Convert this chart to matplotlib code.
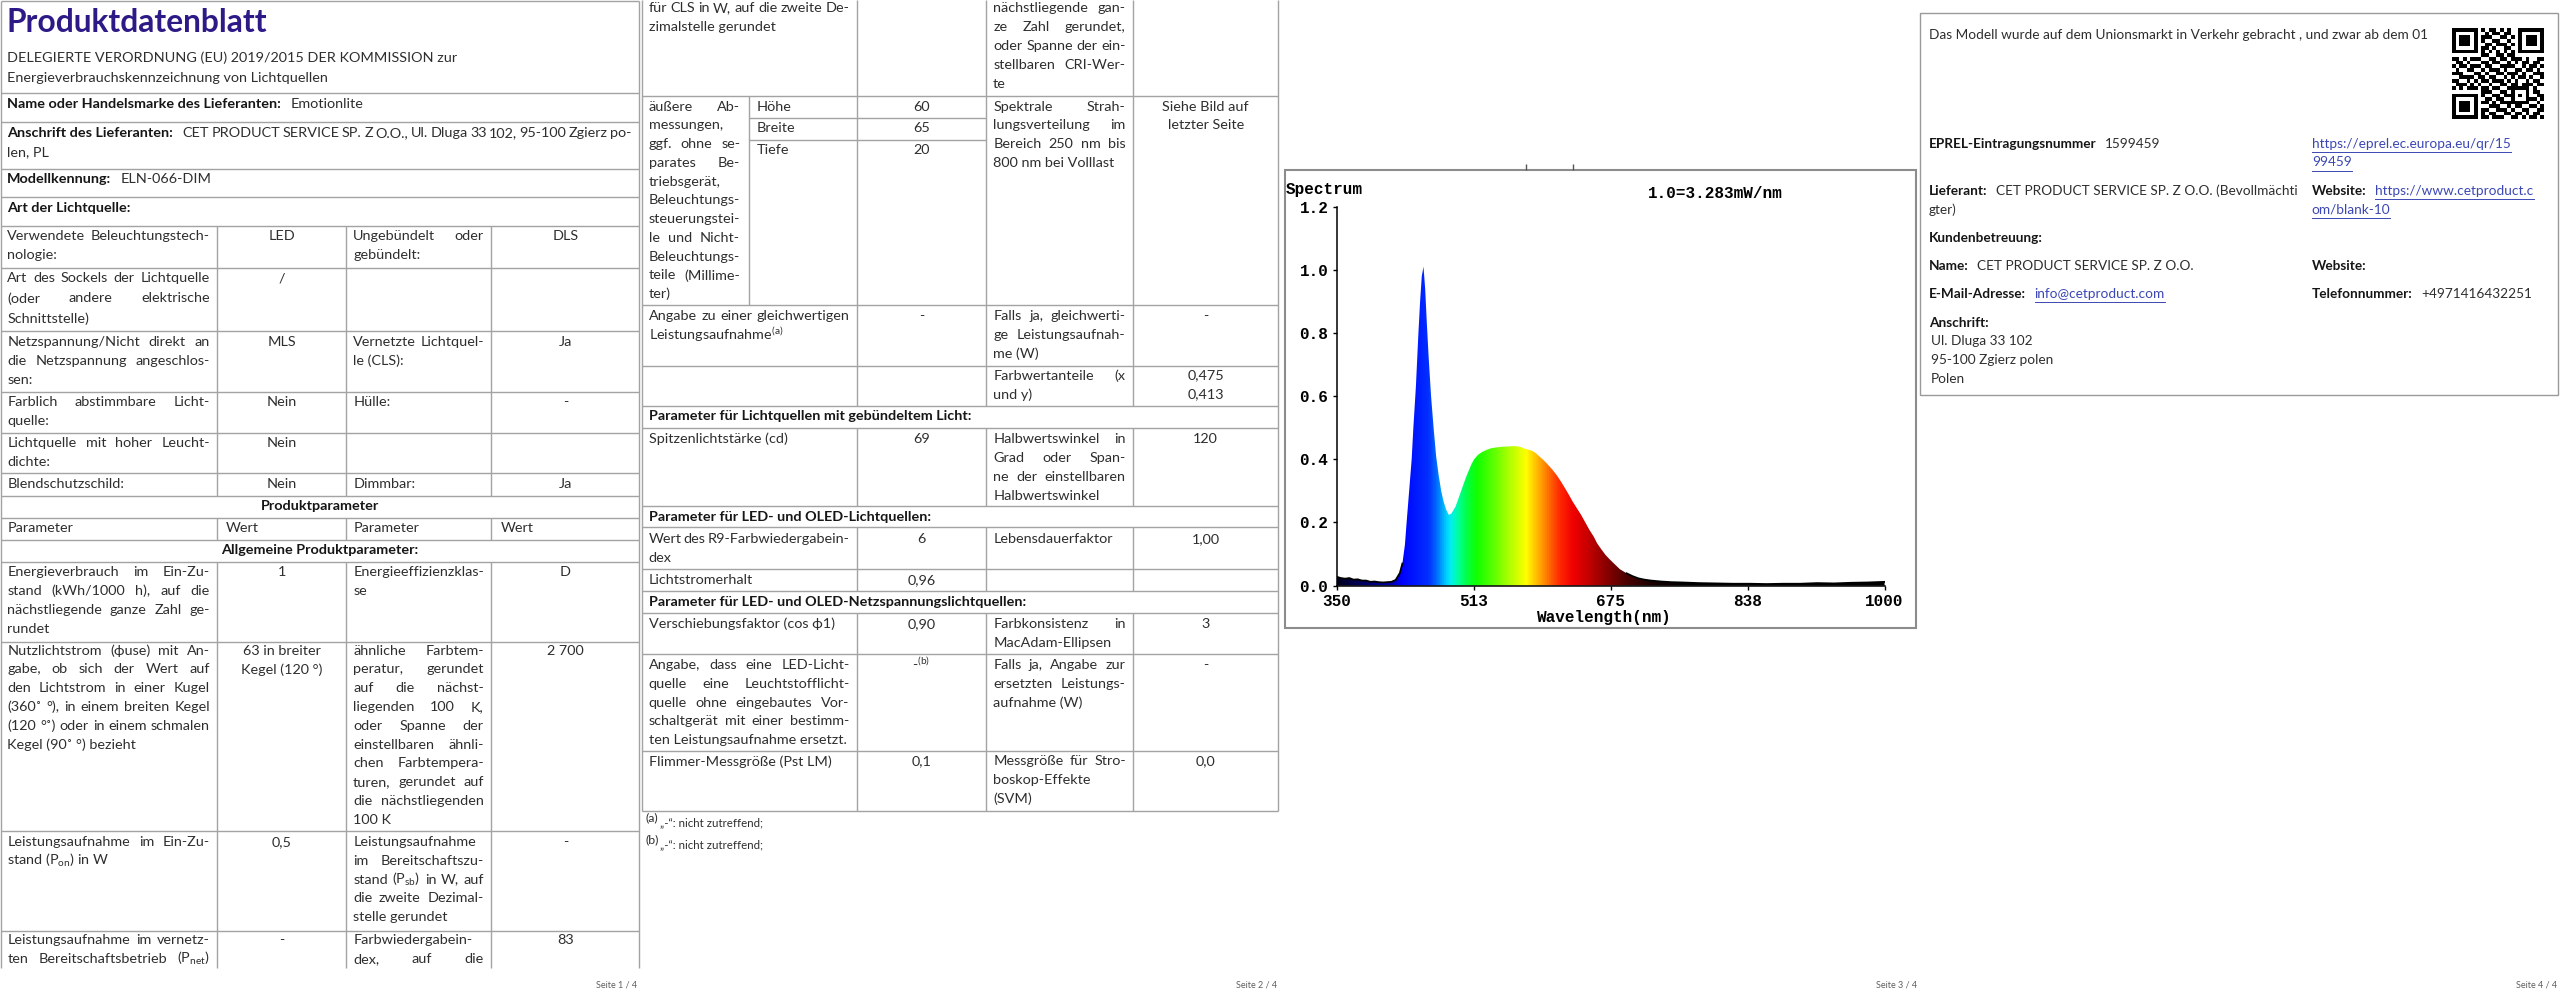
import numpy as np
import matplotlib
matplotlib.use("Agg")
import matplotlib.pyplot as plt
from matplotlib.colors import LinearSegmentedColormap, Normalize
from matplotlib.patches import Polygon, Rectangle

plt.rcParams["font.family"] = ["Lato", "DejaVu Sans"]
plt.rcParams["mathtext.fontset"] = "custom"
plt.rcParams["mathtext.rm"] = "Lato"
plt.rcParams["mathtext.it"] = "Lato:italic"
plt.rcParams["mathtext.bf"] = "Lato:bold"

# ---------------- Inhalte ----------------
titel = "Produktdatenblatt"
verordnung = ["DELEGIERTE VERORDNUNG (EU) 2019/2015 DER KOMMISSION zur",
              "Energieverbrauchskennzeichnung von Lichtquellen"]
marke = ("Name oder Handelsmarke des Lieferanten:", "Emotionlite")
anschrift = ("Anschrift des Lieferanten:",
             "CET PRODUCT SERVICE SP. Z O.O., Ul. Dluga 33 102, 95-100 Zgierz po-", "len, PL")
modell = ("Modellkennung:", "ELN-066-DIM")
art_titel = "Art der Lichtquelle:"

# Seite 1, Tabelle (4 Spalten)
p1_sp1 = [
    ["Verwendete Beleuchtungstech-", "nologie:"],
    ["Art des Sockels der Lichtquelle", "(oder andere elektrische", "Schnittstelle)"],
    ["Netzspannung/Nicht direkt an", "die Netzspannung angeschlos-", "sen:"],
    ["Farblich abstimmbare Licht-", "quelle:"],
    ["Lichtquelle mit hoher Leucht-", "dichte:"],
    ["Blendschutzschild:"],
    ["Energieverbrauch im Ein-Zu-", "stand (kWh/1000 h), auf die",
     "nächstliegende ganze Zahl ge-", "rundet"],
    ["Nutzlichtstrom (ϕuse) mit An-", "gabe, ob sich der Wert auf",
     "den Lichtstrom in einer Kugel", "(360˚ °), in einem breiten Kegel",
     "(120 °˚) oder in einem schmalen", "Kegel (90˚ °) bezieht"],
    ["Leistungsaufnahme im Ein-Zu-", r"stand (P$_{\mathrm{on}}$) in W"],
    ["Leistungsaufnahme im vernetz-", r"ten Bereitschaftsbetrieb (P$_{\mathrm{net}}$)"],
]
p1_sp2 = [["LED"], ["/"], ["MLS"], ["Nein"], ["Nein"], ["Nein"], ["1"],
          ["63 in breiter", "Kegel (120 °)"], ["0,5"], ["-"]]
p1_sp3 = [
    ["Ungebündelt oder", "gebündelt:"],
    [],
    ["Vernetzte Lichtquel-", "le (CLS):"],
    ["Hülle:"],
    [],
    ["Dimmbar:"],
    ["Energieeffizienzklas-", "se"],
    ["ähnliche Farbtem-", "peratur, gerundet", "auf die nächst-", "liegenden 100 K,",
     "oder Spanne der", "einstellbaren ähnli-", "chen Farbtempera-", "turen, gerundet auf",
     "die nächstliegenden", "100 K"],
    ["Leistungsaufnahme", "im Bereitschaftszu-", r"stand (P$_{\mathrm{sb}}$) in W, auf",
     "die zweite Dezimal-", "stelle gerundet"],
    ["Farbwiedergabein-", "dex, auf die"],
]
p1_sp4 = [["DLS"], [], ["Ja"], ["-"], [], ["Ja"], ["D"], ["2 700"], ["-"], ["83"]]
p1_kopf = ["Parameter", "Wert", "Parameter", "Wert"]
p1_zwischen = ["Produktparameter", "Allgemeine Produktparameter:"]

# Seite 2, Tabelle
p2_sp1 = [
    ["für CLS in W, auf die zweite De-", "zimalstelle gerundet"],
    ["äußere Ab-", "messungen,", "ggf. ohne se-", "parates Be-", "triebsgerät,",
     "Beleuchtungs-", "steuerungstei-", "le und Nicht-", "Beleuchtungs-",
     "teile (Millime-", "ter)"],
    ["Angabe zu einer gleichwertigen", r"Leistungsaufnahme$^{\mathrm{(a)}}$"],
    [],
    ["Spitzenlichtstärke (cd)"],
    ["Wert des R9-Farbwiedergabein-", "dex"],
    ["Lichtstromerhalt"],
    ["Verschiebungsfaktor (cos ϕ1)"],
    ["Angabe, dass eine LED-Licht-", "quelle eine Leuchtstofflicht-",
     "quelle ohne eingebautes Vor-", "schaltgerät mit einer bestimm-",
     "ten Leistungsaufnahme ersetzt."],
    ["Flimmer-Messgröße (Pst LM)"],
]
p2_sp2 = [[], [], ["-"], [], ["69"], ["6"], ["0,96"], ["0,90"],
          [r"-$^{\mathrm{(b)}}$"], ["0,1"]]
p2_sp3 = [
    ["nächstliegende gan-", "ze Zahl gerundet,", "oder Spanne der ein-",
     "stellbaren CRI-Wer-", "te"],
    ["Spektrale Strah-", "lungsverteilung im", "Bereich 250 nm bis", "800 nm bei Volllast"],
    ["Falls ja, gleichwerti-", "ge Leistungsaufnah-", "me (W)"],
    ["Farbwertanteile (x", "und y)"],
    ["Halbwertswinkel in", "Grad oder Span-", "ne der einstellbaren", "Halbwertswinkel"],
    ["Lebensdauerfaktor"],
    [],
    ["Farbkonsistenz in", "MacAdam-Ellipsen"],
    ["Falls ja, Angabe zur", "ersetzten Leistungs-", "aufnahme (W)"],
    ["Messgröße für Stro-", "boskop-Effekte", "(SVM)"],
]
p2_sp4 = [[], ["Siehe Bild auf", "letzter Seite"], ["-"], ["0,475", "0,413"], ["120"],
          ["1,00"], [], ["3"], ["-"], ["0,0"]]
masse_namen = ["Höhe", "Breite", "Tiefe"]
masse_werte = ["60", "65", "20"]
p2_gruppen = ["Parameter für Lichtquellen mit gebündeltem Licht:",
              "Parameter für LED- und OLED-Lichtquellen:",
              "Parameter für LED- und OLED-Netzspannungslichtquellen:"]
fussnoten = [("(a)", "„-“: nicht zutreffend;"), ("(b)", "„-“: nicht zutreffend;")]

# Seite 3: Spektrum (Wellenlänge nm, relative Intensität)
spek_nm = [350, 355, 360, 365, 370, 375, 380, 385, 390, 395, 400, 405, 410, 415, 420,
           425, 428, 431, 433, 436, 439, 441, 444, 447, 449, 451, 453, 455, 457, 459,
           462, 465, 468, 471, 474, 477, 480, 483, 486, 491, 495, 499, 503, 506, 510,
           513, 518, 523, 528, 533, 540, 547, 555, 562, 567, 572, 577, 582, 587, 591,
           596, 601, 606, 611, 616, 621, 625, 630, 635, 640, 645, 650, 655, 659, 664,
           669, 674, 679, 686, 694, 701, 708, 715, 723, 735, 747, 760, 780, 800, 820,
           840, 860, 880, 900, 920, 940, 960, 980, 1000]
spek_wert = [0.028, 0.024, 0.022, 0.024, 0.019, 0.02, 0.016, 0.016, 0.012, 0.013, 0.011,
             0.01, 0.011, 0.012, 0.018, 0.04, 0.07, 0.13, 0.2, 0.3, 0.4, 0.5, 0.63, 0.8,
             0.9, 0.98, 1.01, 0.94, 0.83, 0.73, 0.6, 0.5, 0.41, 0.35, 0.3, 0.265, 0.24,
             0.224, 0.228, 0.25, 0.28, 0.31, 0.34, 0.36, 0.385, 0.4, 0.415, 0.424, 0.43,
             0.435, 0.438, 0.44, 0.441, 0.442, 0.44, 0.435, 0.431, 0.427, 0.418, 0.408,
             0.396, 0.382, 0.367, 0.35, 0.33, 0.308, 0.29, 0.266, 0.245, 0.224, 0.2,
             0.176, 0.155, 0.134, 0.115, 0.097, 0.083, 0.07, 0.052, 0.039, 0.03, 0.023,
             0.019, 0.016, 0.013, 0.011, 0.01, 0.008, 0.007, 0.006, 0.006, 0.005, 0.006,
             0.006, 0.008, 0.007, 0.009, 0.01, 0.012]
spek_xticks = [350, 513, 675, 838, 1000]
spek_yticks = [0.0, 0.2, 0.4, 0.6, 0.8, 1.0, 1.2]
spek_titel = "Spectrum"
spek_skala = "1.0=3.283mW/nm"
spek_xlabel = "Wavelength(nm)"

# Seite 4
inverkehr = "Das Modell wurde auf dem Unionsmarkt in Verkehr gebracht , und zwar ab dem 01"
eprel = ("EPREL-Eintragungsnummer", "1599459")
eprel_link = ["https://eprel.ec.europa.eu/qr/15", "99459"]
lieferant = ("Lieferant:", "CET PRODUCT SERVICE SP. Z O.O. (Bevollmächti", "gter)")
website = ("Website:", "https://www.cetproduct.c", "om/blank-10")
kunden = "Kundenbetreuung:"
kname = ("Name:", "CET PRODUCT SERVICE SP. Z O.O.")
website2 = "Website:"
email = ("E-Mail-Adresse:", "info@cetproduct.com")
telefon = ("Telefonnummer:", "+4971416432251")
kanschrift = ["Anschrift:", "Ul. Dluga 33 102", "95-100 Zgierz polen", "Polen"]
seiten = ["Seite 1 / 4", "Seite 2 / 4", "Seite 3 / 4", "Seite 4 / 4"]

# QR-Muster (Module, 25 x 25)
FINDER = ["1111111", "1000001", "1011101", "1011101", "1011101", "1000001", "1111111"]
qr_oben = ["101101010", "010110110", "111001101", "100110010", "011011101",
           "110100110", "101010101"]
qr_r7 = "110011011"
qr_mitte = ["1101011100110110111010011", "0110100011011001010110110",
            "1011011101100111100101101", "0100110010111010011011010",
            "1110001101001101110100111", "0011110110110010101101001",
            "1100101011011101010010110", "0111010100100110110111011",
            "1010111011011001111110100"]
qr_r17 = "11100110100010110"
qr_unten = ["10011011101010011", "01101100100011101", "11010111111110010",
            "00111001011001101", "11001110100110011", "10110011011010110",
            "11011100110101101"]

# ---------------- Layout ----------------
W, H = 1568.0, 613.1
PX = 2560 / W
LS = 11.55
TXT = "#2e2e2e"
DARK = "#161616"
GRID = "#a3a3a3"
LINK = "#3b47b5"
MONO = ["Liberation Mono", "DejaVu Sans Mono"]

fig = plt.figure(figsize=(25.6, 10.01), dpi=100)
ax = fig.add_axes([0, 0, 1, 1])
rend = fig.canvas.get_renderer()


def breite(t):
    return t.get_window_extent(renderer=rend).width / PX


def put(x, y, s, size=None, bold=False, color=TXT, ha="left", family=None):
    kw = {"family": family} if family else {}
    return ax.text(x, y, s, fontsize=size or FS, fontweight="bold" if bold else "normal",
                   color=color, ha=ha, va="center", **kw)


def kalibrieren(s, ziel, bold=False, family=None):
    # Schriftgröße so wählen, dass der Text die Breite aus der Vorlage hat
    t = put(0, 0, s, size=10.0, bold=bold, family=family)
    b = breite(t)
    t.remove()
    return 10.0 * ziel / b


FS = 10.0
FS = kalibrieren(marke[0], 168.8, bold=True)
FS_T = kalibrieren(titel, 160.0, bold=True)
FS4 = min(kalibrieren(inverkehr, 320.0), kalibrieren(lieferant[1], 183.0))
FS_M = kalibrieren(spek_skala, 83.0, bold=True, family=MONO)


def zeile(x, y, s, w, **kw):
    worte = s.split(" ")
    if len(worte) < 2:
        return put(x, y, s, **kw)
    ts = [put(x, y, wd, **kw) for wd in worte]
    bs = [breite(t) for t in ts]
    gap = max((w - sum(bs)) / (len(worte) - 1), 1.2)
    cx = x
    for t, b in zip(ts, bs):
        t.set_x(cx)
        cx += b + gap


def zelle(x, y, zeilen, w, ls=LS, last=False, **kw):
    for i, s in enumerate(zeilen):
        if i < len(zeilen) - 1 or last:
            zeile(x, y + i * ls, s, w, **kw)
        else:
            put(x, y + i * ls, s, **kw)


def mitte(xc, y, zeilen, ls=LS, **kw):
    for i, s in enumerate(zeilen):
        put(xc, y + i * ls, s, ha="center", **kw)


def hl(y, x0, x1, c=GRID, lw=1.0):
    ax.plot([x0, x1], [y, y], color=c, lw=lw, solid_capstyle="butt")


def vl(x, y0, y1, c=GRID, lw=1.0):
    ax.plot([x, x], [y0, y1], color=c, lw=lw, solid_capstyle="butt")


def unterstrich(t, x, y):
    ax.plot([x, x + breite(t)], [y + 5.2, y + 5.2], color=LINK, lw=0.7)


def paar(x, y, label, wert, gap=5.5, link=False, size=None):
    t = put(x, y, label, size=size, bold=True, color=DARK)
    x2 = x + breite(t) + gap
    t2 = put(x2, y, wert, size=size, color=LINK if link else TXT)
    if link:
        unterstrich(t2, x2, y)
    return x2


# ---------- Seite 1 ----------
L1, R1 = 0.6, 391.6
c1 = [133.0, 212.0, 301.0]
for y in [0.6, 57.2, 74.9, 103.7, 120.8, 138.2, 164, 203, 240, 265, 290, 304, 317, 331,
          344, 393, 509, 570]:
    hl(y, L1, R1)
vl(L1, 0.6, 593)
vl(R1, 0.6, 593)
for x in c1:
    for y0, y1 in [(138.2, 304), (317, 331), (344, 593)]:
        vl(x, y0, y1)

put(4, 13.5, titel, size=FS_T, bold=True, color="#2d1a86")
put(4.5, 35.5, verordnung[0])
put(4.5, 48.0, verordnung[1])
paar(4.5, 63.7, *marke)
x2 = paar(4.5, 81.3, anschrift[0], "")
zeile(x2, 81.3, anschrift[1], 387 - x2)
put(4.5, 92.9, anschrift[2])
paar(4.5, 109.8, *modell)
put(4.5, 127.2, art_titel, bold=True, color=DARK)

p1_y = [144.6, 170.4, 209.4, 246.4, 271.4, 296.4, 350.4, 398.5, 515.7, 575.7]
p1_ls = [LS, 12.4, LS, LS, LS, LS, LS, 11.5, 11.5, 11.5]
p1_last = [False] * 9 + [True]
for i, y in enumerate(p1_y):
    zelle(4.5, y, p1_sp1[i], 124.0, ls=p1_ls[i], last=p1_last[i])
    mitte(172.5, y, p1_sp2[i], ls=p1_ls[i])
    zelle(216.3, y, p1_sp3[i], 80.0, ls=p1_ls[i], last=p1_last[i])
    mitte(346.3, y, p1_sp4[i], ls=p1_ls[i])
put(196, 309.7, p1_zwischen[0], ha="center", bold=True, color=DARK)
for x, s in zip([4.5, 138.4, 216.8, 306.8], p1_kopf):
    put(x, 323.6, s)
put(196, 336.8, p1_zwischen[1], ha="center", bold=True, color=DARK)

# ---------- Seite 2 ----------
L2, R2 = 393.0, 783.0
c2 = [524.8, 604.0, 694.0]
for y in [58.6, 186.8, 224, 248.7, 262, 310, 323, 348.5, 362, 375.5, 400.5, 460, 496.7]:
    hl(y, L2, R2)
hl(72.0, 458.7, 604.0)
hl(85.7, 458.7, 604.0)
vl(L2, 0, 496.7)
vl(R2, 0, 496.7)
vl(458.7, 58.6, 186.8)
for x in c2:
    for y0, y1 in [(0, 248.7), (262, 310), (323, 362), (375.5, 496.7)]:
        vl(x, y0, y1)

p2_y = [5.1, 65.3, 193.5, 230.0, 268.9, 330.3, 355.2, 382.1, 407.2, 466.4]
for i, y in enumerate(p2_y):
    if i == 1:
        zelle(397.3, y, p2_sp1[i], 56.0, ls=11.49)
    else:
        zelle(397.3, y, p2_sp1[i], 123.0)
    mitte(564.4, y, p2_sp2[i])
    zelle(608.3, y, p2_sp3[i], 81.2)
    mitte(738.5, y, p2_sp4[i])
for j, (n, v) in enumerate(zip(masse_namen, masse_werte)):
    put(463.5, 65.3 + j * 13.3, n)
    put(564.4, 65.3 + j * 13.3, v, ha="center")
for y, s in zip([255.0, 316.8, 368.9], p2_gruppen):
    put(397.3, y, s, bold=True, color=DARK)
for y, (a, b) in zip([502.5, 516.0], fussnoten):
    ta = put(395.5, y - 1.8, a, size=FS * 0.85)
    put(395.5 + breite(ta) + 0.8, y + 1.4, b, size=FS * 0.8)

# ---------- Seite 3: Spektrum ----------
ax.add_patch(Rectangle((786.8, 104.0), 386.8, 280.5, facecolor="white",
                       edgecolor="#8c8c8c", lw=1.5))
vl(934.6, 100.5, 104, c="#555555")
vl(963.3, 100.5, 104, c="#555555")
put(787.5, 115.9, spek_titel, size=FS_M, bold=True, color="black", family=MONO)
put(1050.5, 118.4, spek_skala, size=FS_M, bold=True, color="black", ha="center", family=MONO)
put(982.7, 378.2, spek_xlabel, size=FS_M, bold=True, color="black", ha="center", family=MONO)

sax = fig.add_axes([818.7 / W, 1 - 358.7 / H, (1154.3 - 818.7) / W, (358.7 - 126.6) / H])
sax.patch.set_alpha(0)
farben = [(350, "#000020"), (415, "#0000b0"), (425, "#0000ff"), (458, "#0030ff"),
          (468, "#0070ff"), (478, "#00c8ff"), (484, "#00f0f0"), (492, "#00ffa0"),
          (502, "#00ff50"), (515, "#10ff00"), (540, "#70ff00"), (560, "#c8ff00"),
          (574, "#ffff00"), (588, "#ffb400"), (600, "#ff7000"), (614, "#ff2800"),
          (630, "#f00000"), (650, "#c00000"), (670, "#880000"), (695, "#480000"),
          (725, "#180000"), (770, "#000000"), (1000, "#000000")]
cmap = LinearSegmentedColormap.from_list(
    "spek", [((nm - 350) / 650, c) for nm, c in farben])
nm = np.array(spek_nm, dtype=float)
val = np.array(spek_wert)
grad = np.linspace(350, 1000, 1400)[None, :]
im = sax.imshow(grad, extent=(350, 1000, 0, 1.2), aspect="auto", origin="lower",
                cmap=cmap, norm=Normalize(350, 1000), interpolation="bilinear")
poly = Polygon(np.column_stack([np.r_[nm[0], nm, nm[-1]], np.r_[0, val, 0]]),
               closed=True, facecolor="none", edgecolor="none")
sax.add_patch(poly)
im.set_clip_path(poly)
m1 = nm <= 428
m2 = nm >= 694
sax.plot(nm[m1], val[m1], color="black", lw=1.3)
sax.plot(nm[m2], val[m2], color="black", lw=1.3)
sax.set_xlim(350, 1000)
sax.set_ylim(0, 1.2)
sax.set_xticks(spek_xticks)
sax.set_yticks(spek_yticks)
sax.set_yticklabels([f"{v:.1f}" for v in spek_yticks])
for sp in ["top", "right"]:
    sax.spines[sp].set_visible(False)
for sp in ["left", "bottom"]:
    sax.spines[sp].set_linewidth(1.1)
sax.tick_params(direction="out", length=3, width=1.0, colors="black", pad=3)
for lab in sax.get_xticklabels() + sax.get_yticklabels():
    lab.set_family(MONO)
    lab.set_fontweight("bold")
    lab.set_fontsize(FS_M)

# ---------- Seite 4 ----------
ax.add_patch(Rectangle((1176.3, 8.2), 390.5, 233.8, facecolor="none",
                       edgecolor="#9a9a9a", lw=1.0))
X4, X4b = 1181.3, 1416.0
put(X4, 21.4, inverkehr, size=FS4)

qr = [FINDER[i] + "0" + qr_oben[i] + "0" + FINDER[i] for i in range(7)]
qr.append("00000000" + qr_r7 + "00000000")
qr += qr_mitte
qr.append("00000000" + qr_r17)
qr += [FINDER[i] + "0" + qr_unten[i] for i in range(7)]
qr_arr = np.array([[int(c) for c in r.ljust(25, "0")[:25]] for r in qr])
ax.imshow(qr_arr, extent=(1501.6, 1557.4, 73.0, 17.4), cmap="gray_r",
          interpolation="nearest", aspect="auto", zorder=3)

paar(X4, 88.2, *eprel, size=FS4)
for i, s in enumerate(eprel_link):
    t = put(X4b, 88.2 + i * 11.2, s, size=FS4, color=LINK)
    unterstrich(t, X4b, 88.2 + i * 11.2)
paar(X4, 116.8, lieferant[0], lieferant[1], size=FS4)
put(X4, 128.2, lieferant[2], size=FS4)
paar(X4b, 116.8, website[0], website[1], link=True, size=FS4)
t = put(X4b, 128.2, website[2], size=FS4, color=LINK)
unterstrich(t, X4b, 128.2)
put(X4, 145.5, kunden, size=FS4, bold=True, color=DARK)
paar(X4, 162.7, *kname, size=FS4)
put(X4b, 162.7, website2, size=FS4, bold=True, color=DARK)
paar(X4, 180.0, *email, link=True, size=FS4)
paar(X4b, 180.0, *telefon, size=FS4)
put(X4, 197.6, kanschrift[0], size=FS4, bold=True, color=DARK)
for i, s in enumerate(kanschrift[1:]):
    put(X4 + 1.2, 208.8 + i * 11.6, s, size=FS4)

# Seitenzahlen
for xr, s in zip([390.5, 782.5, 1174.5, 1566.0], seiten):
    put(xr, 603.3, s, size=FS * 0.62, color="#606060", ha="right")

ax.set_xlim(0, W)
ax.set_ylim(H, 0)
ax.axis("off")
fig.savefig("out.png", dpi=100, facecolor="white")
